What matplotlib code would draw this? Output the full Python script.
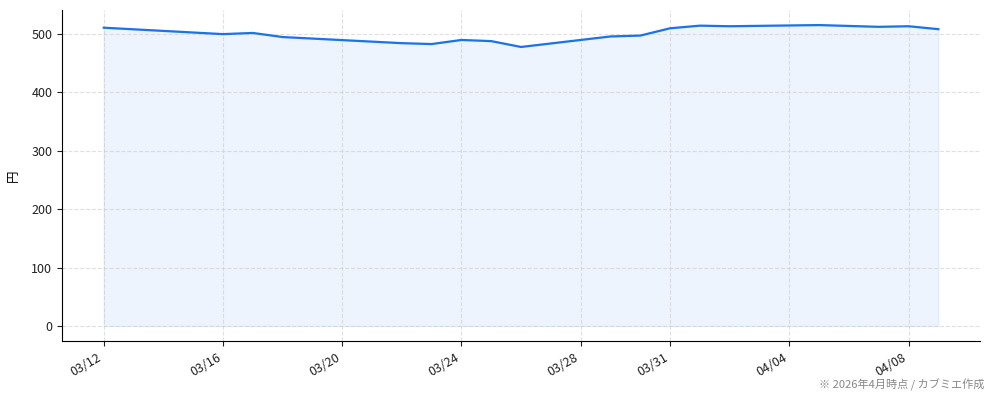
import matplotlib
matplotlib.use("Agg")
import matplotlib.pyplot as plt
import matplotlib.dates as mdates
import pandas as pd

plt.rcParams['font.family'] = ['Noto Sans CJK JP', 'DejaVu Sans']

dates = ["2026-03-12", "2026-03-16", "2026-03-17", "2026-03-18", "2026-03-22",
         "2026-03-23", "2026-03-24", "2026-03-25", "2026-03-26", "2026-03-29",
         "2026-03-30", "2026-03-31", "2026-04-01", "2026-04-02", "2026-04-05",
         "2026-04-07", "2026-04-08", "2026-04-09"]
prices = [511, 500, 502, 495, 484.5, 483, 490, 488, 478, 496,
          497.5, 510, 514.5, 513.5, 515.5, 512.5, 513.5, 508.5]
tick_dates = ["2026-03-12", "2026-03-16", "2026-03-20", "2026-03-24",
              "2026-03-28", "2026-03-31", "2026-04-04", "2026-04-08"]

x = pd.to_datetime(dates)
ticks = pd.to_datetime(tick_dates)

fig = plt.figure(figsize=(9.94, 4.01), dpi=100)
ax = fig.add_axes([0.0624, 0.1496, 0.9236, 0.8254])

ax.fill_between(x, prices, 0, color="#1a73e8", alpha=0.08, linewidth=1)
ax.plot(x, prices, color="#1a73e8", linewidth=1.6)

ax.set_xticks(ticks)
ax.xaxis.set_major_formatter(mdates.DateFormatter("%m/%d"))
for lbl in ax.get_xticklabels():
    lbl.set_rotation(30)
    lbl.set_ha("right")
ax.tick_params(labelsize=9, colors="#222222")
ax.set_yticks([0, 100, 200, 300, 400, 500])
ax.set_ylabel("円", fontsize=9, labelpad=8)

ax.grid(True, linestyle="--", color="#cccccc", alpha=0.6, linewidth=0.8)
ax.spines["top"].set_visible(False)
ax.spines["right"].set_visible(False)

fig.text(0.99, 0.025, "※ 2026年4月時点 / カブミエ作成", ha="right", va="bottom",
         fontsize=8, color="#888888")

fig.savefig("out.png", dpi=100)
